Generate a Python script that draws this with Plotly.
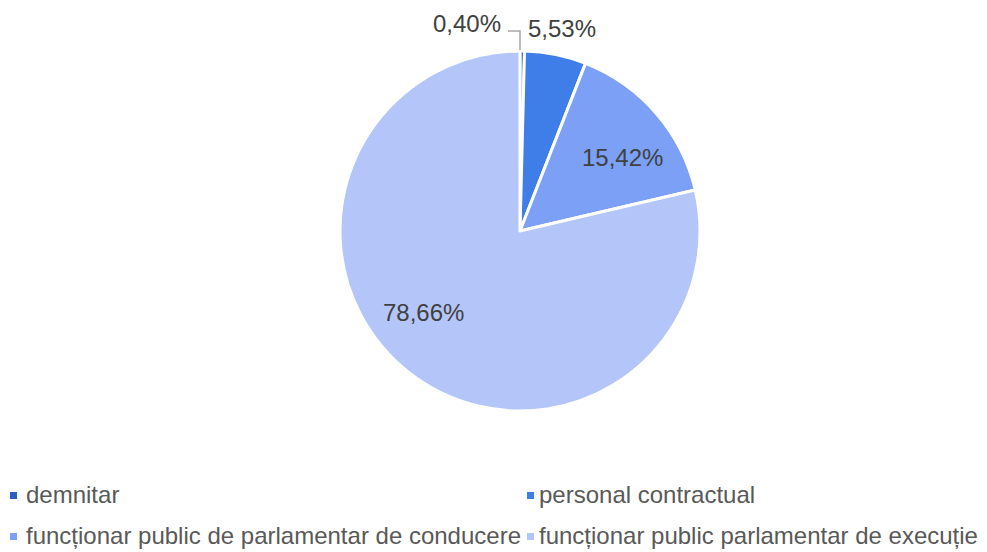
import plotly.graph_objects as go

categories = ["demnitar", "personal contractual",
              "funcționar public de parlamentar de conducere",
              "funcționar public parlamentar de execuție"]
values = [0.40, 5.53, 15.42, 78.66]
colors = ["#2E5EBF", "#3F7DE8", "#7BA0F5", "#B4C6F9"]

# the page body has an 8px margin, so the figure is drawn 8px in from the corner
OFF = 8
W, H = 987 - OFF, 552 - OFF
FONT = "Liberation Sans, Arial, sans-serif"

def px(x):
    return (x - OFF) / W

def py(y):
    return 1 - (y - OFF) / H

fig = go.Figure()
fig.add_trace(go.Pie(
    labels=categories, values=values, sort=False, direction="clockwise", rotation=0,
    marker=dict(colors=colors, line=dict(color="white", width=3)),
    textinfo="none",
    domain=dict(x=[px(340), px(700)], y=[py(411), py(51)]),
    showlegend=False, hoverinfo="label+value",
))

# data label positions (screen pixel coords of label centres)
label_pos = [(467, 23), (562, 29), (622, 157), (423, 312)]
for v, (lx, ly) in zip(values, label_pos):
    fig.add_annotation(
        x=px(lx), y=py(ly), xref="paper", yref="paper",
        text=f"{v:.2f}%".replace(".", ","), showarrow=False,
        xanchor="center", yanchor="middle",
        font=dict(family=FONT, size=24, color="#404040"),
    )

# leader line for the small slice label
fig.add_shape(
    type="path", xref="paper", yref="paper",
    path=f"M {px(508)} {py(31)} L {px(520)} {py(31)} L {px(520)} {py(50)}",
    line=dict(color="#A6A6A6", width=1.5),
)

# legend (2 columns x 2 rows)
col_marker_x = [10, 527]
col_text_x = [24, 537]
row_y = [494, 535]
for i, (c, col) in enumerate(zip(categories, colors)):
    r, k = divmod(i, 2)
    mx, ty = col_marker_x[k], row_y[r]
    fig.add_shape(
        type="rect", xref="paper", yref="paper",
        x0=px(mx), x1=px(mx + 7), y0=py(ty + 5), y1=py(ty - 2),
        fillcolor=col, line=dict(width=0),
    )
    fig.add_annotation(
        x=px(col_text_x[k]), y=py(ty), xref="paper", yref="paper",
        text=c, showarrow=False, xanchor="left", yanchor="middle",
        font=dict(family=FONT, size=24, color="#595959"),
    )

fig.update_layout(
    width=W, height=H, margin=dict(l=0, r=0, t=0, b=0),
    paper_bgcolor="white", plot_bgcolor="white",
    showlegend=False,
)
fig.write_html("out.html")
